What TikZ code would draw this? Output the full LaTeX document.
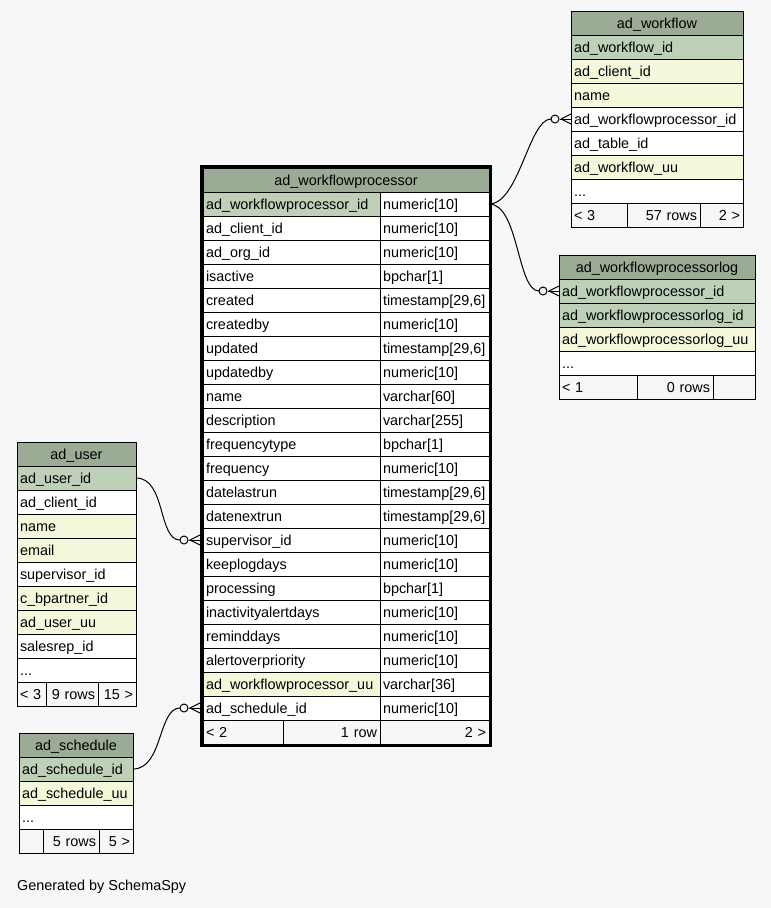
\documentclass[tikz,border=0pt]{standalone}
\usepackage{fontspec}
\setmainfont{Liberation Sans}
\usetikzlibrary{calc}
\definecolor{bgcol}{HTML}{F7F7F7}
\definecolor{headcol}{HTML}{9BAB96}
\definecolor{pkcol}{HTML}{BED1B8}
\definecolor{idxcol}{HTML}{F4F7DA}
\hyphenpenalty=10000
\exhyphenpenalty=10000
\newcommand{\etcrow}{...}

\tikzset{
    cell/.style={draw=black, line width=1pt, anchor=north west, outer sep=0pt,
        inner xsep=3pt, inner ysep=0pt, minimum height=24pt, text width=#1,
        align=left, text height=12pt, text depth=2pt},
    headcell/.style={cell=#1, fill=headcol, align=center},
    footcell/.style={cell=#1, fill=bgcol, align=right},
    relline/.style={line width=1pt},
    ring/.style={circle, draw, line width=1pt, fill=bgcol, minimum size=8pt, inner sep=0pt}
}

\newcommand{\fklink}[3]{%
    \draw[relline] (#1) .. controls +(30,0) and +(-22,0) .. ($(#2)+(-20,0)$);
    \node[ring] (#3) at ($(#2)+(-16,0)$) {};
    \draw[relline] (#3.east) -- (#2);
    \draw[relline] ($(#2)+(-10,0)$) -- ($(#2)+(0,-5)$);
    \draw[relline] ($(#2)+(-10,0)$) -- ($(#2)+(0,5)$);
}

\begin{document}
\begin{tikzpicture}[x=1pt, y=-1pt, font=\fontsize{14.4pt}{17pt}\selectfont]
    \path[use as bounding box, fill=bgcol] (0,0) rectangle (771,908);

    % ad_workflowprocessor
    \node[headcell=280pt] (proc) at (203,168) {ad\_workflowprocessor};
    \foreach \cname/\ctype/\cfill [count=\i] in {
        ad\_workflowprocessor\_id/numeric[10]/pkcol,
        ad\_client\_id/numeric[10]/white,
        ad\_org\_id/numeric[10]/white,
        isactive/bpchar[1]/white,
        created/{timestamp[29,6]}/white,
        createdby/numeric[10]/white,
        updated/{timestamp[29,6]}/white,
        updatedby/numeric[10]/white,
        name/varchar[60]/white,
        description/varchar[255]/white,
        frequencytype/bpchar[1]/white,
        frequency/numeric[10]/white,
        datelastrun/{timestamp[29,6]}/white,
        datenextrun/{timestamp[29,6]}/white,
        supervisor\_id/numeric[10]/white,
        keeplogdays/numeric[10]/white,
        processing/bpchar[1]/white,
        inactivityalertdays/numeric[10]/white,
        reminddays/numeric[10]/white,
        alertoverpriority/numeric[10]/white,
        ad\_workflowprocessor\_uu/varchar[36]/idxcol,
        ad\_schedule\_id/numeric[10]/white}{
        \node[cell=171pt, fill=\cfill] (p\i) at (203,168+24*\i) {\cname};
        \node[cell=103pt, fill=white] (t\i) at (380,168+24*\i) {\ctype};
    }
    \node[cell=74pt, fill=bgcol] (pf1) at (203,720) {< 2};
    \node[footcell=91pt] (pf2) at (283,720) {1 row};
    \node[footcell=103pt] (pf3) at (380,720) {2 >};

    % ad_workflow
    \node[headcell=166pt] (wf) at (571,11) {ad\_workflow};
    \foreach \cname/\cfill [count=\i] in {ad\_workflow\_id/pkcol, ad\_client\_id/idxcol,
        name/idxcol, ad\_workflowprocessor\_id/white, ad\_table\_id/white,
        ad\_workflow\_uu/idxcol, \etcrow/white}
        \node[cell=166pt, fill=\cfill] (w\i) at (571,11+24*\i) {\cname};
    \node[cell=50pt, fill=bgcol] (wff1) at (571,203) {< 3};
    \node[footcell=67pt] (wff2) at (627,203) {57 rows};
    \node[footcell=37pt] (wff3) at (700,203) {2 >};

    % ad_workflowprocessorlog
    \node[headcell=190pt] (log) at (559,255) {ad\_workflowprocessorlog};
    \foreach \cname/\cfill [count=\i] in {ad\_workflowprocessor\_id/pkcol,
        ad\_workflowprocessorlog\_id/pkcol, ad\_workflowprocessorlog\_uu/idxcol, \etcrow/white}
        \node[cell=190pt, fill=\cfill] (l\i) at (559,255+24*\i) {\cname};
    \node[cell=72pt, fill=bgcol] (lf1) at (559,375) {< 1};
    \node[footcell=70pt] (lf2) at (637,375) {0 rows};
    \node[footcell=36pt] (lf3) at (713,375) {};

    % ad_user
    \node[headcell=113pt] (user) at (17,442) {ad\_user};
    \foreach \cname/\cfill [count=\i] in {ad\_user\_id/pkcol, ad\_client\_id/white,
        name/idxcol, email/idxcol, supervisor\_id/white, c\_bpartner\_id/idxcol,
        ad\_user\_uu/idxcol, salesrep\_id/white, \etcrow/white}
        \node[cell=113pt, fill=\cfill] (u\i) at (17,442+24*\i) {\cname};
    \node[cell=23pt, fill=bgcol] (uf1) at (17,682) {< 3};
    \node[footcell=46pt] (uf2) at (46,682) {9 rows};
    \node[footcell=32pt] (uf3) at (98,682) {15 >};

    % ad_schedule
    \node[headcell=108pt] (sched) at (19,733) {ad\_schedule};
    \foreach \cname/\cfill [count=\i] in {ad\_schedule\_id/pkcol, ad\_schedule\_uu/idxcol, \etcrow/white}
        \node[cell=108pt, fill=\cfill] (s\i) at (19,733+24*\i) {\cname};
    \node[cell=18pt, fill=bgcol] (sf1) at (19,829) {};
    \node[footcell=50pt] (sf2) at (43,829) {5 rows};
    \node[footcell=28pt] (sf3) at (99,829) {5 >};

    % relations
    \coordinate (supin) at ([xshift=-3pt]p15.west);
    \coordinate (schin) at ([xshift=-3pt]p22.west);
    \fklink{t1.east}{w4.west}{ring1}
    \fklink{t1.east}{l1.west}{ring2}
    \fklink{u1.east}{supin}{ring3}
    \fklink{s1.east}{schin}{ring4}

    \draw[line width=3pt] ([shift={(-1.5,-1.5)}]proc.north west) rectangle ([shift={(1.5,1.5)}]pf3.south east);

    \node[anchor=west, inner sep=0pt] (credit) at (17,887) {Generated by SchemaSpy};
\end{tikzpicture}
\end{document}
